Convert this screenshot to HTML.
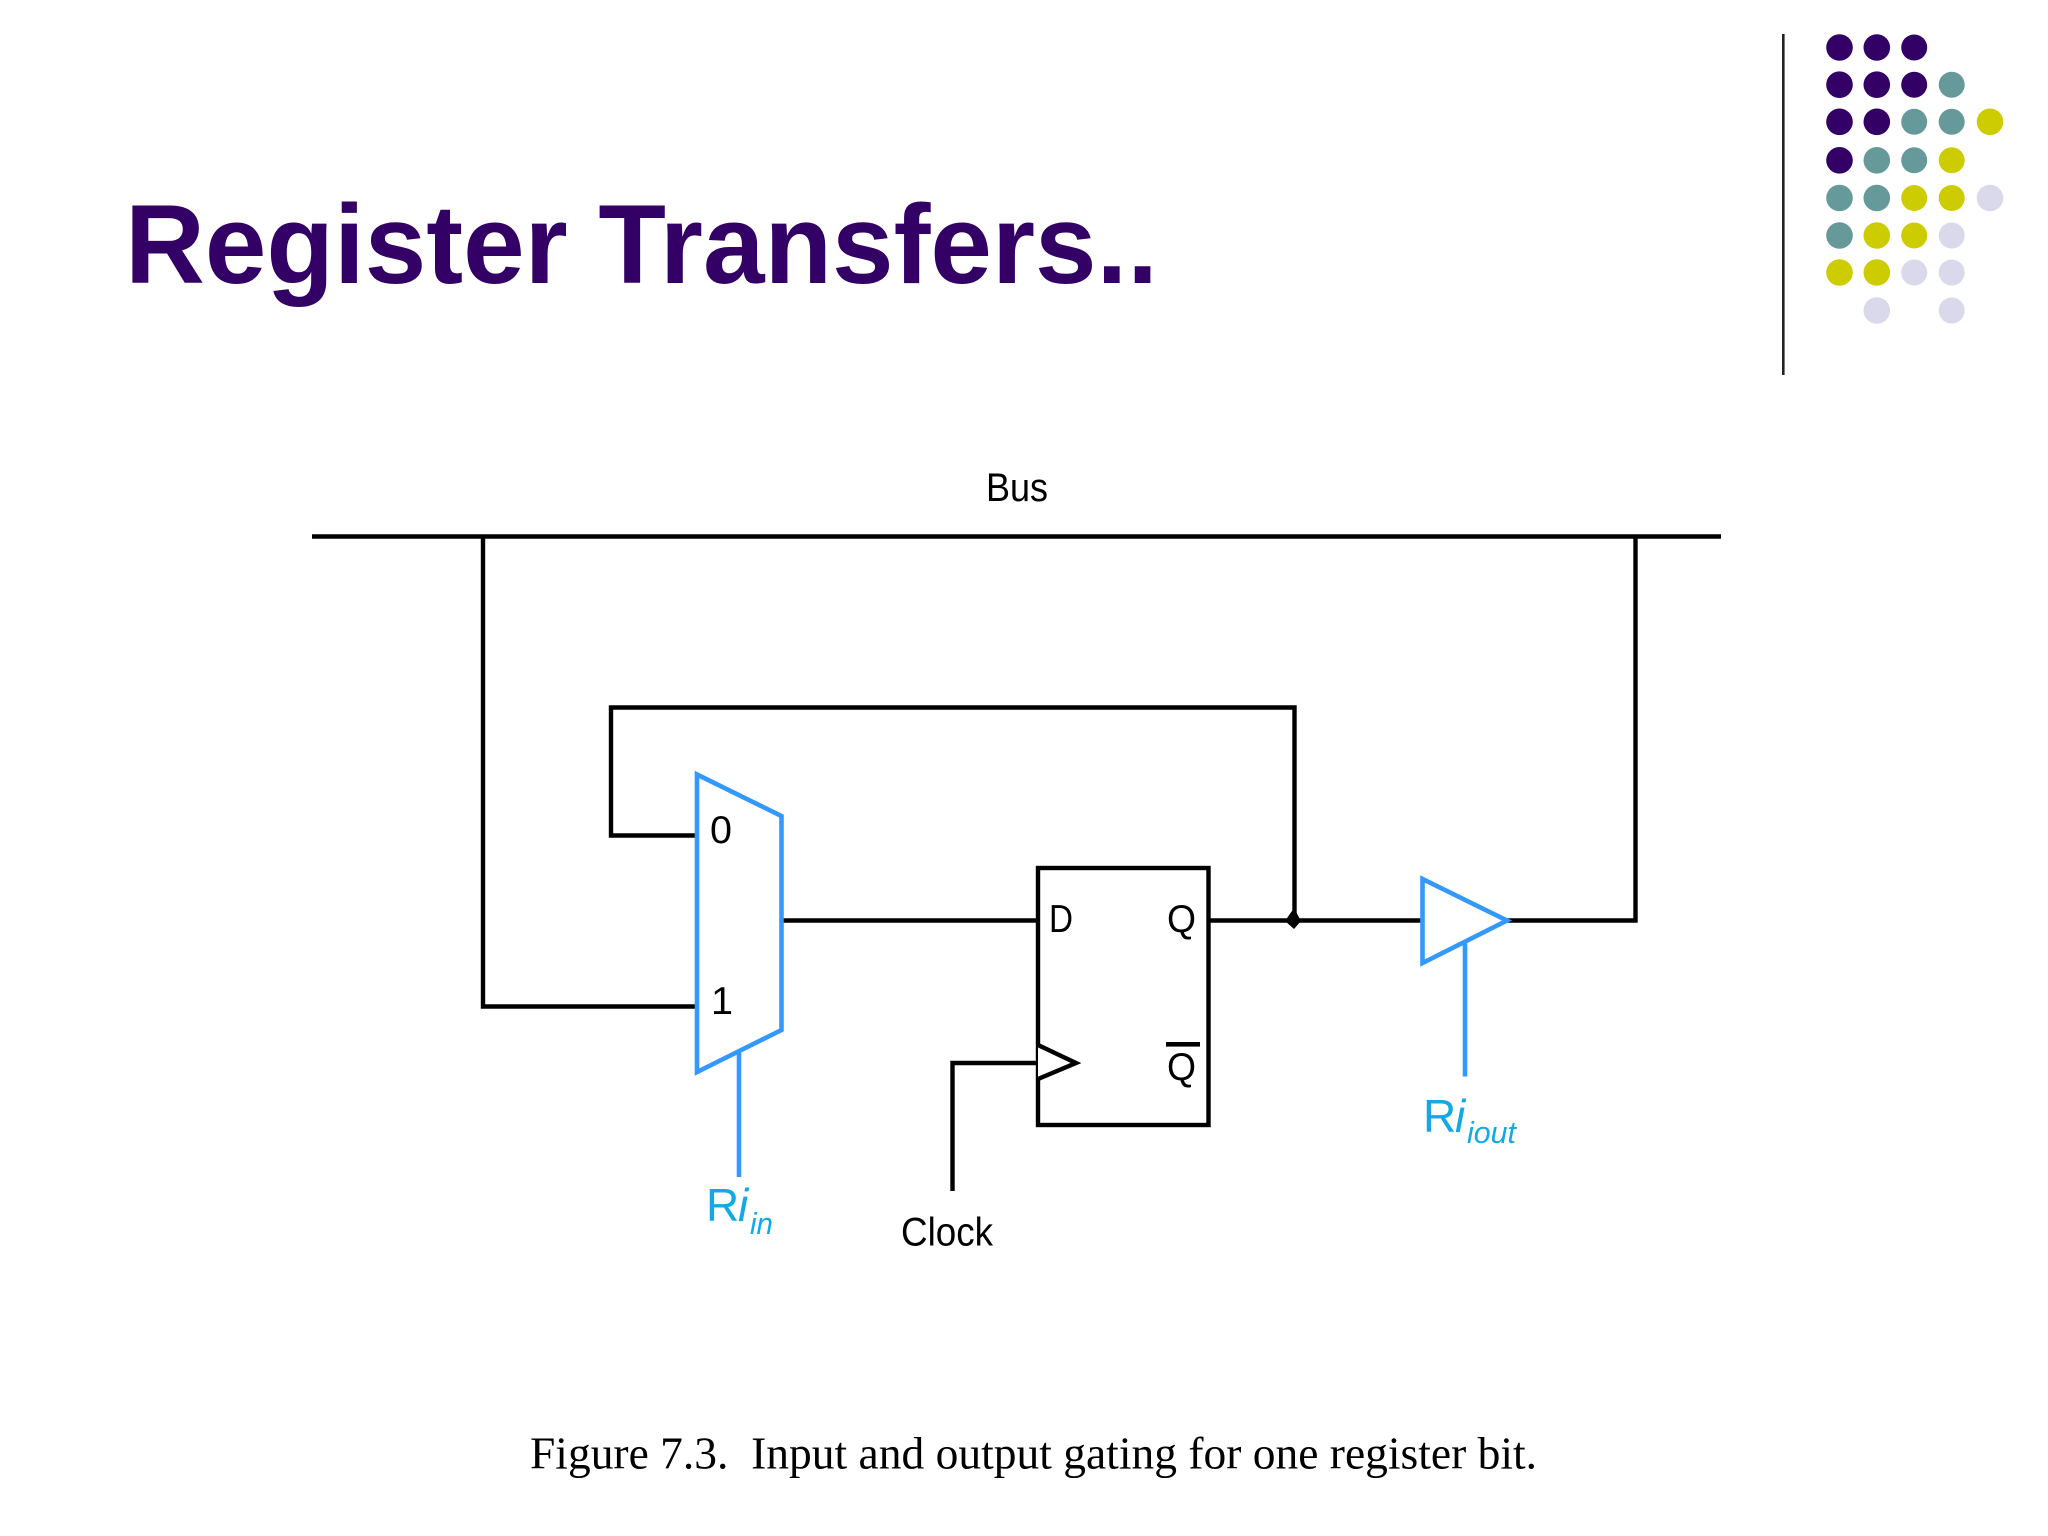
<!DOCTYPE html>
<html>
<head>
<meta charset="utf-8">
<style>
html,body{margin:0;padding:0;background:#fff;width:2048px;height:1536px;overflow:hidden}
svg{display:block;filter:blur(.35px)}
text{white-space:pre}
.s{font-family:"Liberation Sans",sans-serif}
</style>
</head>
<body>
<svg width="2048" height="1536" viewBox="0 0 2048 1536" xmlns="http://www.w3.org/2000/svg">
<rect width="2048" height="1536" fill="#fff"/>

<!-- top right decoration -->
<line x1="1783.3" y1="34" x2="1783.3" y2="375" stroke="#222" stroke-width="2.6"/>
<g fill="#330066">
<circle cx="1839.5" cy="47.5" r="13.3"/><circle cx="1876.8" cy="47.5" r="13.3"/><circle cx="1914.2" cy="47.5" r="13"/>
<circle cx="1839.5" cy="84.7" r="13.3"/><circle cx="1876.8" cy="84.7" r="13.3"/><circle cx="1914.2" cy="84.7" r="13"/>
<circle cx="1839.5" cy="121.8" r="13.3"/><circle cx="1876.8" cy="121.8" r="13.3"/>
<circle cx="1839.5" cy="160.3" r="13.3"/>
</g>
<g fill="#669999">
<circle cx="1951.7" cy="84.7" r="13"/>
<circle cx="1914.2" cy="121.8" r="13"/><circle cx="1951.7" cy="121.8" r="13"/>
<circle cx="1876.8" cy="160.3" r="13.3"/><circle cx="1914.2" cy="160.3" r="13"/>
<circle cx="1839.5" cy="198" r="13.3"/><circle cx="1876.8" cy="198" r="13.3"/>
<circle cx="1839.5" cy="235.5" r="13.3"/>
</g>
<g fill="#CCCC00">
<circle cx="1990" cy="121.8" r="13.3"/>
<circle cx="1951.7" cy="160.3" r="13"/>
<circle cx="1914.2" cy="198" r="13"/><circle cx="1951.7" cy="198" r="13"/>
<circle cx="1876.8" cy="235.5" r="13.3"/><circle cx="1914.2" cy="235.5" r="13"/>
<circle cx="1839.5" cy="272.5" r="13.3"/><circle cx="1876.8" cy="272.5" r="13.3"/>
</g>
<g fill="#D9D9EB">
<circle cx="1990" cy="198" r="13.3"/>
<circle cx="1951.7" cy="235.5" r="13"/>
<circle cx="1914.2" cy="272.5" r="13"/><circle cx="1951.7" cy="272.5" r="13"/>
<circle cx="1876.8" cy="310.5" r="13.3"/><circle cx="1951.7" cy="310.5" r="13"/>
</g>

<!-- title -->
<text class="s" x="125" y="283" font-size="112" font-weight="700" fill="#330066" textLength="1033" lengthAdjust="spacingAndGlyphs">Register Transfers..</text>

<!-- bus -->
<text class="s" x="986" y="501" font-size="40" fill="#000" textLength="62" lengthAdjust="spacingAndGlyphs">Bus</text>
<line x1="312" y1="536.5" x2="1721" y2="536.5" stroke="#000" stroke-width="4.6"/>

<!-- black wiring -->
<g fill="none" stroke="#000" stroke-width="4.4" stroke-linejoin="miter">
<polyline points="483,536 483,1006.5 697,1006.5"/>
<polyline points="697,835.5 611,835.5 611,707.5 1294.5,707.5 1294.5,921"/>
<line x1="782" y1="920.5" x2="1038" y2="920.5"/>
<rect x="1038" y="868" width="170.5" height="257"/>
<polyline points="1038,1045 1076,1063 1038,1079" fill="#fff"/>
<polyline points="1038,1063 952.5,1063 952.5,1191"/>
<line x1="1209" y1="920.5" x2="1422" y2="920.5"/>
<polyline points="1507,920.5 1635.5,920.5 1635.5,536"/>
</g>
<polygon points="1294,908 1301,921 1294,929 1285,921" fill="#000"/>

<!-- blue shapes -->
<g fill="none" stroke="#3399FF" stroke-width="4.6" stroke-linejoin="miter">
<polygon points="697,774.5 781.5,816 781.5,1030 697,1072"/>
<line x1="739" y1="1052" x2="739" y2="1177"/>
<polygon points="1422.5,879 1507,920.5 1422.5,963"/>
<line x1="1465" y1="943" x2="1465" y2="1076.5"/>
</g>

<!-- labels -->
<g class="s" fill="#000">
<text class="s" x="710" y="843" font-size="39" textLength="22" lengthAdjust="spacingAndGlyphs">0</text>
<text class="s" x="711" y="1014" font-size="39" textLength="22" lengthAdjust="spacingAndGlyphs">1</text>
<text class="s" x="1049" y="932" font-size="39" textLength="24" lengthAdjust="spacingAndGlyphs">D</text>
<text class="s" x="1167" y="932" font-size="39" textLength="29" lengthAdjust="spacingAndGlyphs">Q</text>
<text class="s" x="1167" y="1080" font-size="39" textLength="29" lengthAdjust="spacingAndGlyphs">Q</text>
<text class="s" x="901" y="1245.5" font-size="40" textLength="92" lengthAdjust="spacingAndGlyphs">Clock</text>
</g>
<rect x="1166" y="1042" width="34" height="4.6" fill="#000"/>

<g fill="#12A9E6">
<text class="s" x="706" y="1221" font-size="46">R</text>
<text class="s" x="738" y="1221" font-size="46" font-style="italic">i</text>
<text class="s" x="750" y="1234" font-size="31" font-style="italic" textLength="23" lengthAdjust="spacingAndGlyphs">in</text>
<text class="s" x="1423" y="1132" font-size="46">R</text>
<text class="s" x="1455" y="1132" font-size="46" font-style="italic">i</text>
<text class="s" x="1467" y="1143" font-size="31" font-style="italic" textLength="49" lengthAdjust="spacingAndGlyphs">iout</text>
</g>

<!-- caption -->
<text x="530" y="1468.5" font-family="'Liberation Serif',serif" font-size="46" fill="#000" textLength="1007" lengthAdjust="spacingAndGlyphs" xml:space="preserve">Figure 7.3.  Input and output gating for one register bit.</text>
</svg>
</body>
</html>
